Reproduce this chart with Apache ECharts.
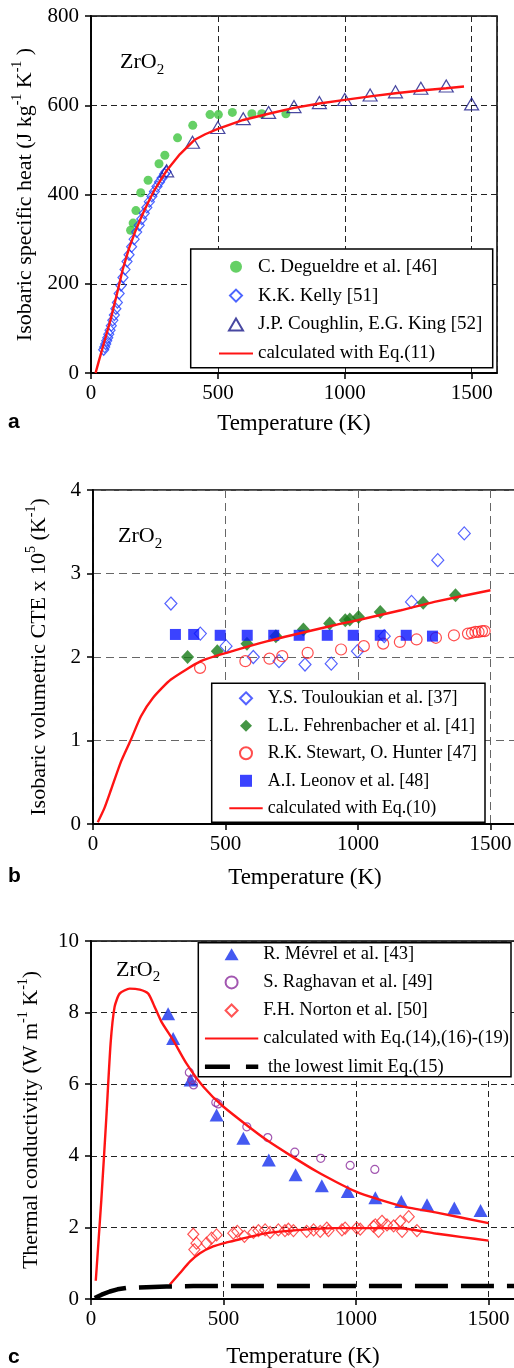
<!DOCTYPE html>
<html>
<head>
<meta charset="utf-8">
<title>ZrO2 properties</title>
<script src="https://cdn.jsdelivr.net/npm/echarts@6.0.0/dist/echarts.min.js"></script>
<style>
html, body { margin: 0; padding: 0; background: #fff; }
#chart { width: 514px; height: 1368px; }
</style>
</head>
<body>
<div id="chart"></div>
<script>
// ---- panel a : isobaric specific heat ----
var degT  = [156, 166, 177, 196, 225, 268, 291, 341, 401, 469, 502, 557, 634, 673, 768];
var degCp = [320, 336, 364, 404, 432, 469, 488, 527, 555, 579, 579, 584, 581, 581, 581];

var kellyT  = [50, 54, 58, 62, 66, 70, 75, 80, 86, 92, 98, 104, 111, 118, 126, 134, 142, 150, 160, 170, 180, 190, 200, 210, 220, 230, 240, 250, 260, 270, 280, 290, 296];
var kellyCp = [52, 58, 65, 72, 79, 87, 96, 106, 118, 130, 144, 158, 178, 196, 214, 232, 250, 265, 283, 300, 316, 331, 345, 358, 371, 384, 396, 407, 418, 428, 437, 446, 451];

var coughT  = [298, 400, 500, 600, 700, 800, 900, 1000, 1100, 1200, 1300, 1400, 1500];
var coughCp = [453, 517, 550, 570, 584, 597, 606, 613, 623, 630, 638, 643, 603];

var calcAT  = [18, 30, 50, 75, 100, 125, 150, 175, 200, 225, 250, 275, 300, 350, 407, 450, 500, 600, 700, 800, 900, 1000, 1100, 1200, 1300, 1400, 1470];
var calcACp = [0, 25, 65, 115, 172, 232, 280, 318, 352, 382, 410, 433, 455, 490, 522, 535, 547, 567, 581, 594, 604, 612, 620, 627, 633, 638, 642];

// ---- panel b : volumetric CTE (x 1e5) ----
var toulT = [294, 405, 502, 605, 702, 800, 899, 998, 1099, 1202, 1301, 1401];
var toulV = [2.64, 2.28, 2.13, 2.00, 1.95, 1.91, 1.92, 2.07, 2.25, 2.66, 3.16, 3.48];

var fehrT = [357, 469, 581, 690, 794, 893, 952, 969, 1002, 1084, 1246, 1368];
var fehrV = [2.00, 2.07, 2.16, 2.25, 2.33, 2.40, 2.44, 2.45, 2.48, 2.54, 2.65, 2.74];

var stewT = [404, 575, 666, 714, 810, 936, 1022, 1095, 1158, 1221, 1294, 1362, 1415, 1430, 1443, 1455, 1468, 1478];
var stewV = [1.87, 1.95, 1.98, 2.01, 2.05, 2.09, 2.13, 2.16, 2.18, 2.21, 2.23, 2.26, 2.28, 2.29, 2.30, 2.30, 2.31, 2.31];

var leonT = [311, 380, 480, 582, 682, 778, 884, 982, 1084, 1182, 1281];
var leonV = [2.27, 2.27, 2.26, 2.26, 2.26, 2.26, 2.26, 2.26, 2.26, 2.26, 2.25];

var calcBT = [18, 43, 68, 106, 143, 181, 226, 294, 407, 504, 659, 910, 998, 1162, 1288, 1500];
var calcBV = [0.02, 0.19, 0.41, 0.75, 1.01, 1.29, 1.51, 1.73, 1.95, 2.05, 2.19, 2.38, 2.44, 2.56, 2.66, 2.80];

// ---- panel c : thermal conductivity ----
var mevT = [291, 310, 376, 474, 575, 671, 772, 871, 969, 1073, 1171, 1268, 1371, 1470];
var mevV = [7.97, 7.28, 6.12, 5.14, 4.49, 3.88, 3.47, 3.16, 3.00, 2.83, 2.72, 2.63, 2.54, 2.47];

var ragT = [371, 380, 387, 471, 480, 588, 667, 769, 867, 978, 1071];
var ragV = [6.33, 6.12, 5.98, 5.49, 5.45, 4.81, 4.51, 4.10, 3.93, 3.73, 3.62];

var nortT = [386, 390, 398, 436, 455, 474, 537, 552, 579, 613, 632, 657, 676, 707, 732, 745, 764, 814, 840, 865, 890, 896, 947, 959, 1003, 1016, 1066, 1073, 1085, 1098, 1117, 1142, 1167, 1174, 1199, 1230];
var nortV = [1.81, 1.38, 1.56, 1.56, 1.70, 1.79, 1.84, 1.89, 1.75, 1.86, 1.91, 1.93, 1.86, 1.93, 1.91, 1.95, 1.91, 1.89, 1.93, 1.89, 1.98, 1.91, 1.93, 1.98, 1.98, 1.95, 2.03, 2.07, 1.89, 2.17, 2.07, 2.04, 2.17, 1.89, 2.30, 1.91];

var calcCupT = [18, 39, 58, 74, 89, 108, 146, 184, 216, 235, 266, 310, 360, 424, 500, 663, 852, 1000, 1167, 1300, 1500];
var calcCupV = [0.51, 2.77, 5.09, 7.14, 8.16, 8.53, 8.67, 8.64, 8.53, 8.25, 7.74, 7.23, 6.58, 5.93, 5.37, 4.44, 3.56, 3.00, 2.60, 2.42, 2.12];

var calcClowT = [297, 335, 374, 411, 461, 512, 562, 663, 789, 915, 1003, 1100, 1180, 1300, 1400, 1500];
var calcClowV = [0.40, 0.72, 1.05, 1.28, 1.47, 1.58, 1.67, 1.84, 1.93, 1.98, 1.98, 1.98, 1.97, 1.83, 1.73, 1.63];

var lowT = [14, 40, 71, 100, 134, 209, 285, 386, 1000, 1600];
var lowV = [0.03, 0.12, 0.21, 0.27, 0.31, 0.33, 0.35, 0.36, 0.36, 0.36];

var xTicks = { min: 0, max: 1600, interval: 500 };
var yTicksA = { min: 0, max: 800, interval: 200 };
var yTicksB = { min: 0, max: 4, interval: 1 };
var yTicksC = { min: 0, max: 10, interval: 2 };

var serif = 'Liberation Serif';

// legend icons as paths so they keep their proportions
var iconDiamond = 'path://M6,0L12,6L6,12L0,6Z';
var iconTriangle = 'path://M7,0L14,12L0,12Z';
var iconSquare = 'path://M0,0L12,0L12,12L0,12Z';

function pts(xs, ys) {
	var out = [];
	for (var i = 0; i < xs.length; i++) {
		out.push([xs[i], ys[i]]);
	}
	return out;
}

function plain(v) { return String(v); }

var supRich = {
	t: { fontFamily: serif, fontSize: 22, fontWeight: 'normal', color: '#000', lineHeight: 30 },
	s: { fontFamily: serif, fontSize: 14, fontWeight: 'normal', color: '#000', lineHeight: 14, verticalAlign: 'top' }
};

function xAxisFor(idx, gap, dash, gridColor) {
	return {
		type: 'value', gridIndex: idx,
		min: xTicks.min, max: xTicks.max, interval: xTicks.interval,
		axisLine: { show: true, onZero: false, lineStyle: { color: '#000', width: 1.8 } },
		axisTick: { show: true, inside: false, length: 6, lineStyle: { color: '#000', width: 1.5 } },
		axisLabel: { color: '#000', fontFamily: serif, fontSize: 21, margin: 10, showMaxLabel: false, formatter: plain },
		splitLine: { show: true, lineStyle: { color: gridColor, type: dash, width: 1 } },
		name: 'Temperature (K)', nameLocation: 'middle', nameGap: gap,
		nameTextStyle: { color: '#000', fontFamily: serif, fontSize: 23, lineHeight: 26 }
	};
}

function yAxisFor(idx, ticks, name, gap, dash, gridColor) {
	return {
		type: 'value', gridIndex: idx,
		min: ticks.min, max: ticks.max, interval: ticks.interval,
		axisLine: { show: true, onZero: false, lineStyle: { color: '#000', width: 1.8 } },
		axisTick: { show: true, inside: false, length: 6, lineStyle: { color: '#000', width: 1.5 } },
		axisLabel: { color: '#000', fontFamily: serif, fontSize: 21, margin: 12, formatter: plain },
		splitLine: { show: true, lineStyle: { color: gridColor, type: dash, width: 1 } },
		name: name, nameLocation: 'middle', nameRotate: 90, nameGap: gap,
		nameTextStyle: { rich: supRich }
	};
}

function zrLabel(left, top) {
	return {
		text: '{m|ZrO}{s|2}', left: left, top: top, padding: 0,
		textStyle: {
			fontWeight: 'normal',
			rich: {
				m: { fontFamily: serif, fontSize: 22, fontWeight: 'normal', color: '#000', lineHeight: 30 },
				s: { fontFamily: serif, fontSize: 15, fontWeight: 'normal', color: '#000', lineHeight: 19, verticalAlign: 'bottom' }
			}
		}
	};
}

function panelLetter(txt, top) {
	return {
		text: txt, left: 8, top: top, padding: 0,
		textStyle: { fontFamily: 'Liberation Sans', fontWeight: 'bold', fontSize: 21, color: '#000', lineHeight: 24 }
	};
}

function legendBox(x, y, w, h) {
	return {
		type: 'rect', z: 3,
		shape: { x: x, y: y, width: w, height: h },
		style: { fill: '#fff', stroke: '#000', lineWidth: 1.5 }
	};
}

// legend entry for a curve: hide the dot that would sit on the line icon
function curveEntry(name, dash, width) {
	var item = { name: name, itemStyle: { opacity: 0 } };
	if (dash) {
		item.lineStyle = { type: dash, width: width };
	}
	return item;
}

var open = 'rgba(255,255,255,0)';
var red = '#ff1414';

var chart = echarts.init(document.getElementById('chart'), null, { renderer: 'canvas' });

var option = {
	animation: false,
	backgroundColor: '#fff',
	title: [
		zrLabel(120, 47.5),
		zrLabel(118, 521.5),
		zrLabel(116, 955),
		panelLetter('a', 410.5),
		panelLetter('b', 864.5),
		panelLetter('c', 1345.5)
	],
	grid: [
		{ left: 91, top: 16, width: 406, height: 357, show: true, borderColor: '#000', borderWidth: 1.5, outerBoundsMode: 'none' },
		{ left: 93, top: 490, width: 424, height: 334, show: true, borderColor: '#000', borderWidth: 1.5, outerBoundsMode: 'none' },
		{ left: 91, top: 941, width: 424, height: 358, show: true, borderColor: '#000', borderWidth: 1.5, outerBoundsMode: 'none' }
	],
	xAxis: [
		xAxisFor(0, 38, [6, 4], '#222'),
		xAxisFor(1, 41, [8, 5], '#666'),
		xAxisFor(2, 45, [6, 4], '#222')
	],
	yAxis: [
		yAxisFor(0, yTicksA, '{t|Isobaric specific heat (J kg}{s|-1}{t| K}{s|-1}{t| )}', 50, [6, 4], '#222'),
		yAxisFor(1, yTicksB, '{t|Isobaric volumetric CTE x 10}{s|5}{t| (K}{s|-1}{t|)}', 39, [8, 5], '#666'),
		yAxisFor(2, yTicksC, '{t|Thermal conductivity (W m}{s|-1}{t| K}{s|-1}{t|)}', 45, [6, 4], '#222')
	],
	graphic: [
		legendBox(190.7, 249, 302, 118.7),
		legendBox(211.7, 683.3, 273.3, 139),
		legendBox(198.3, 942.7, 312.7, 134)
	],
	legend: [
		{
			data: [
				{ name: 'C. Degueldre et al. [46]', icon: 'circle' },
				{ name: 'K.K. Kelly [51]', icon: iconDiamond },
				{ name: 'J.P. Coughlin, E.G. King [52]', icon: iconTriangle },
				curveEntry('calculated with Eq.(11)')
			],
			orient: 'vertical', left: 218, top: 257.2, padding: 0,
			itemWidth: 34, itemHeight: 12, itemGap: 9.9, selectedMode: false, symbolKeepAspect: true,
			textStyle: { fontFamily: serif, fontSize: 19, color: '#000' }
		},
		{
			data: [
				{ name: 'Y.S. Touloukian et al. [37]', icon: iconDiamond },
				{ name: 'L.L. Fehrenbacher et al. [41]', icon: iconDiamond },
				{ name: 'R.K. Stewart, O. Hunter [47]', icon: 'circle' },
				{ name: 'A.I. Leonov et al. [48]', icon: iconSquare },
				curveEntry('calculated with Eq.(10)')
			],
			orient: 'vertical', left: 228.3, top: 689.3, padding: 0,
			itemWidth: 33.4, itemHeight: 12, itemGap: 9.5, selectedMode: false, symbolKeepAspect: true,
			textStyle: { fontFamily: serif, fontSize: 18, color: '#000' }
		},
		{
			data: [
				{ name: 'R. Mévrel et al. [43]', icon: iconTriangle },
				{ name: 'S. Raghavan et al. [49]', icon: 'circle' },
				{ name: 'F.H. Norton et al. [50]', icon: iconDiamond },
				curveEntry('calculated with Eq.(14),(16)-(19)'),
				curveEntry(' the lowest limit Eq.(15)', [25, 16], 4.5)
			],
			orient: 'vertical', left: 202.7, top: 944.8, padding: 0,
			itemWidth: 53.3, itemHeight: 12, itemGap: 9.1, selectedMode: false, symbolKeepAspect: true,
			textStyle: { fontFamily: serif, fontSize: 18.5, color: '#000' }
		}
	],
	series: [
		// a
		{ name: 'C. Degueldre et al. [46]', type: 'scatter', xAxisIndex: 0, yAxisIndex: 0, data: pts(degT, degCp),
			symbol: 'circle', symbolSize: 9, itemStyle: { color: '#3ec43e' } },
		{ name: 'K.K. Kelly [51]', type: 'scatter', xAxisIndex: 0, yAxisIndex: 0, data: pts(kellyT, kellyCp),
			symbol: 'diamond', symbolSize: [10, 11], itemStyle: { color: open, borderColor: '#1f3fff', borderWidth: 1.2 } },
		{ name: 'J.P. Coughlin, E.G. King [52]', type: 'scatter', xAxisIndex: 0, yAxisIndex: 0, data: pts(coughT, coughCp),
			symbol: 'triangle', symbolSize: [14, 12], itemStyle: { color: open, borderColor: '#1a1a8a', borderWidth: 1.2 } },
		{ name: 'calculated with Eq.(11)', type: 'line', xAxisIndex: 0, yAxisIndex: 0, data: pts(calcAT, calcACp),
			symbol: 'none', lineStyle: { color: red, width: 2.4 }, itemStyle: { color: red } },
		// b
		{ name: 'Y.S. Touloukian et al. [37]', type: 'scatter', xAxisIndex: 1, yAxisIndex: 1, data: pts(toulT, toulV),
			symbol: 'diamond', symbolSize: [12, 13], itemStyle: { color: open, borderColor: '#2a3cff', borderWidth: 1.2 } },
		{ name: 'L.L. Fehrenbacher et al. [41]', type: 'scatter', xAxisIndex: 1, yAxisIndex: 1, data: pts(fehrT, fehrV),
			symbol: 'diamond', symbolSize: [13, 14], itemStyle: { color: '#177a17' } },
		{ name: 'R.K. Stewart, O. Hunter [47]', type: 'scatter', xAxisIndex: 1, yAxisIndex: 1, data: pts(stewT, stewV),
			symbol: 'circle', symbolSize: 11, itemStyle: { color: open, borderColor: '#ff2020', borderWidth: 1.2 } },
		{ name: 'A.I. Leonov et al. [48]', type: 'scatter', xAxisIndex: 1, yAxisIndex: 1, data: pts(leonT, leonV),
			symbol: 'rect', symbolSize: 11, itemStyle: { color: '#0a14ff' } },
		{ name: 'calculated with Eq.(10)', type: 'line', xAxisIndex: 1, yAxisIndex: 1, data: pts(calcBT, calcBV),
			symbol: 'none', smooth: 0.2, lineStyle: { color: red, width: 2.4 }, itemStyle: { color: red } },
		// c
		{ name: 'R. Mévrel et al. [43]', type: 'scatter', xAxisIndex: 2, yAxisIndex: 2, data: pts(mevT, mevV),
			symbol: 'triangle', symbolSize: [14, 13], itemStyle: { color: '#1530ee' } },
		{ name: 'S. Raghavan et al. [49]', type: 'scatter', xAxisIndex: 2, yAxisIndex: 2, data: pts(ragT, ragV),
			symbol: 'circle', symbolSize: 8, itemStyle: { color: open, borderColor: '#8b2c9c', borderWidth: 1.2 } },
		{ name: 'F.H. Norton et al. [50]', type: 'scatter', xAxisIndex: 2, yAxisIndex: 2, data: pts(nortT, nortV),
			symbol: 'diamond', symbolSize: [11, 12], itemStyle: { color: open, borderColor: '#ff2a2a', borderWidth: 1.2 } },
		{ name: 'calculated with Eq.(14),(16)-(19)', type: 'line', xAxisIndex: 2, yAxisIndex: 2, data: pts(calcCupT, calcCupV),
			symbol: 'none', smooth: 0.2, lineStyle: { color: red, width: 2.4 }, itemStyle: { color: red } },
		{ name: 'calculated with Eq.(14),(16)-(19)', type: 'line', xAxisIndex: 2, yAxisIndex: 2, data: pts(calcClowT, calcClowV),
			symbol: 'none', smooth: 0.2, lineStyle: { color: red, width: 2.4 }, itemStyle: { color: red } },
		{ name: ' the lowest limit Eq.(15)', type: 'line', xAxisIndex: 2, yAxisIndex: 2, data: pts(lowT, lowV),
			symbol: 'none', lineStyle: { color: '#000', width: 4.5, type: [33, 13] }, itemStyle: { color: '#000' } }
	]
};

chart.setOption(option);
</script>
</body>
</html>
